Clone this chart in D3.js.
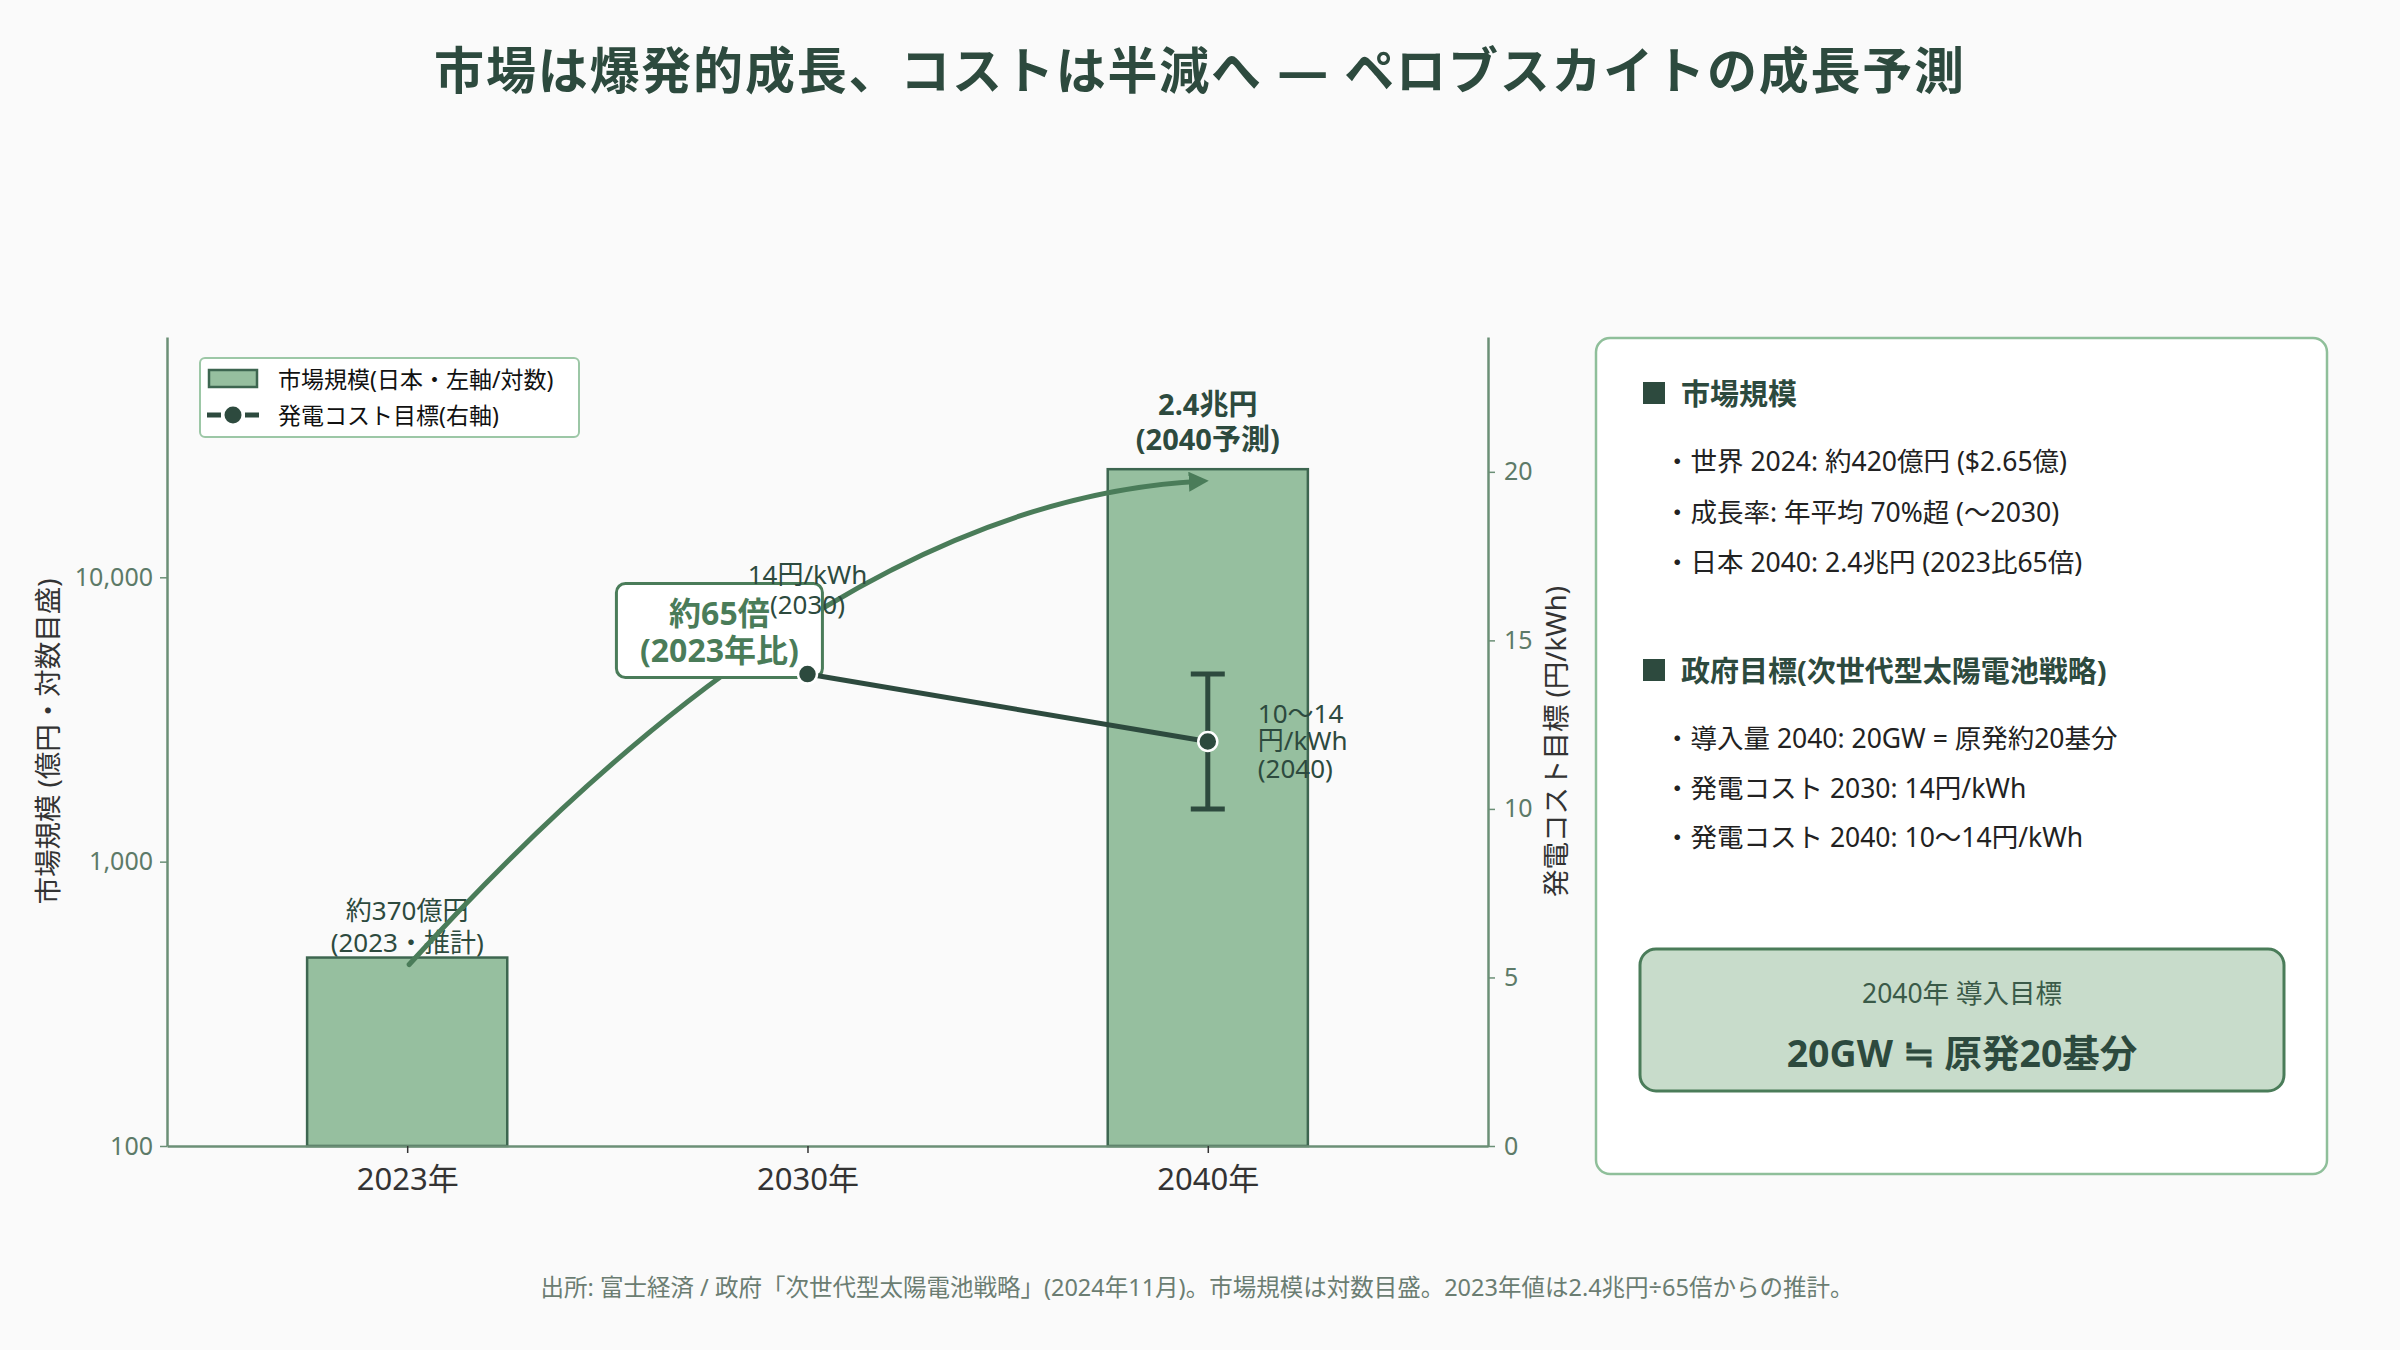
<!DOCTYPE html>
<html>
<head>
<meta charset="utf-8">
<script src="https://cdn.jsdelivr.net/npm/d3@7"></script>
<style>
  body { margin: 0; background: #fafafa; }
  svg { display: block; font-family: "Noto Sans", "Noto Sans CJK JP", sans-serif; }
</style>
</head>
<body>
<svg id="chart" width="2400" height="1350"></svg>
<script>
// categories and values
const years = ["2023年", "2030年", "2040年"]
const marketIdx = [0, 2]
const marketValues = [460, 24000]          // 億円 (log axis)
const costIdx = [1, 2]
const costValues = [14, 12]                // 円/kWh
const costLow = [null, 10]
const costHigh = [null, 14]
const leftTicks = [100, 1000, 10000]
const rightTicks = [0, 5, 10, 15, 20]
const panelMarket = ["・世界 2024: 約420億円 ($2.65億)", "・成長率: 年平均 70%超 (〜2030)", "・日本 2040: 2.4兆円 (2023比65倍)"]
const panelGov = ["・導入量 2040: 20GW = 原発約20基分", "・発電コスト 2030: 14円/kWh", "・発電コスト 2040: 10〜14円/kWh"]

const DARK = "#2d4a3e"
const MID = "#4a7c59"
const BAR = "#96bf9f"
const BAR_EDGE = "#3d6650"
const SPINE = "#6b8f76"
const TICK = "#5d7a68"

const svg = d3.select("#chart")
svg.append("rect").attr("width", 2400).attr("height", 1350).attr("fill", "#fafafa")

const L = 167, R = 1488, T = 337, B = 1146

const x = d3.scaleLinear().domain([-0.6, 2.7]).range([L, R])
const yL = d3.scaleLog().domain([100, 70000]).range([B, T])
const yR = d3.scaleLinear().domain([0, 24]).range([B, T])

// title
svg.append("text")
  .attr("x", 1200).attr("y", 70)
  .attr("text-anchor", "middle").attr("dominant-baseline", "central")
  .attr("font-size", 50).attr("font-weight", 700).attr("fill", DARK)
  .attr("letter-spacing", 1.8)
  .text("市場は爆発的成長、コストは半減へ — ペロブスカイトの成長予測")

// bars
const barW = x(0.25) - x(-0.25)
svg.selectAll(".bar")
  .data(marketIdx.map((d, i) => ({ i: d, v: marketValues[i] })))
  .enter().append("rect")
  .attr("x", d => x(d.i) - barW / 2)
  .attr("y", d => yL(d.v))
  .attr("width", barW)
  .attr("height", d => B - yL(d.v))
  .attr("fill", BAR).attr("stroke", BAR_EDGE).attr("stroke-width", 2.5)

// axes
const gx = svg.append("g").attr("transform", `translate(0,${B})`)
  .call(d3.axisBottom(x).tickValues([0, 1, 2]).tickFormat(i => years[i]).tickSize(7).tickSizeOuter(0))
gx.select(".domain").attr("stroke", SPINE).attr("stroke-width", 2.5)
gx.selectAll(".tick line").attr("stroke", "#333").attr("stroke-width", 1.5)
gx.selectAll(".tick text").attr("font-size", 31).attr("fill", "#333").attr("dy", "1.1em")
  .attr("font-family", "\"Noto Sans\", \"Noto Sans CJK JP\", sans-serif")

const gl = svg.append("g").attr("transform", `translate(${L},0)`)
  .call(d3.axisLeft(yL).tickValues(leftTicks).tickFormat(d3.format(",")).tickSize(7).tickSizeOuter(0))
gl.select(".domain").attr("stroke", SPINE).attr("stroke-width", 2.5)
gl.selectAll(".tick line").attr("stroke", SPINE).attr("stroke-width", 1.5)
gl.selectAll(".tick text").attr("font-size", 25).attr("fill", TICK).attr("x", -14)
  .attr("font-family", "\"Noto Sans\", sans-serif")

const gr = svg.append("g").attr("transform", `translate(${R},0)`)
  .call(d3.axisRight(yR).tickValues(rightTicks).tickSize(7).tickSizeOuter(0))
gr.select(".domain").attr("stroke", SPINE).attr("stroke-width", 2.5)
gr.selectAll(".tick line").attr("stroke", SPINE).attr("stroke-width", 1.5)
gr.selectAll(".tick text").attr("font-size", 25).attr("fill", TICK).attr("x", 16)
  .attr("font-family", "\"Noto Sans\", sans-serif")

// axis labels
svg.append("text")
  .attr("transform", `translate(47,${(T + B) / 2}) rotate(-90)`)
  .attr("text-anchor", "middle").attr("dominant-baseline", "central")
  .attr("font-size", 27.5).attr("fill", "#333")
  .text("市場規模 (億円・対数目盛)")
svg.append("text")
  .attr("transform", `translate(1555,${(T + B) / 2}) rotate(-90)`)
  .attr("text-anchor", "middle").attr("dominant-baseline", "central")
  .attr("font-size", 27.5).attr("fill", "#333")
  .text("発電コスト目標 (円/kWh)")

// bar labels
const lbl = (px, py, lines, size, weight, color, anchor, lh) => {
  const t = svg.append("text").attr("text-anchor", anchor || "middle")
    .attr("font-size", size).attr("font-weight", weight).attr("fill", color)
  lines.forEach((s, k) => t.append("tspan").attr("x", px).attr("y", py + k * lh)
    .attr("dominant-baseline", "central").text(s))
  return t
}
lbl(x(0), yL(marketValues[0]) - 48, ["約370億円", "(2023・推計)"], 26, 400, DARK, "middle", 32)
lbl(x(2), yL(marketValues[1]) - 66, ["2.4兆円", "(2040予測)"], 29, 700, DARK, "middle", 35)

// growth arrow
svg.append("defs").append("marker")
  .attr("id", "head").attr("viewBox", "0 0 10 10").attr("refX", 6).attr("refY", 5)
  .attr("markerWidth", 4).attr("markerHeight", 4).attr("orient", "auto")
  .append("path").attr("d", "M0,0 L10,5 L0,10 z").attr("fill", MID)
const p0 = [x(0) + 2, yL(marketValues[0]) + 7]
const p2 = [x(2) - 7, yL(marketValues[1]) + 12]
const ctrl = [830, 500]
svg.append("path")
  .attr("d", `M${p0[0]},${p0[1]} Q${ctrl[0]},${ctrl[1]} ${p2[0]},${p2[1]}`)
  .attr("fill", "none").attr("stroke", MID).attr("stroke-width", 5)
  .attr("stroke-linecap", "round").attr("marker-end", "url(#head)")

// annotation box
const ax = x(0.78), ay = yL(6500)
svg.append("rect").attr("x", ax - 103).attr("y", ay - 47).attr("width", 206).attr("height", 94)
  .attr("rx", 9).attr("fill", "#fff").attr("stroke", MID).attr("stroke-width", 3)
lbl(ax, ay - 18, ["約65倍", "(2023年比)"], 32, 700, MID, "middle", 37)

// cost line
const cost = costIdx.map((d, i) => ({ i: d, v: costValues[i], lo: costLow[i], hi: costHigh[i] }))
svg.append("path")
  .attr("d", d3.line().x(d => x(d.i)).y(d => yR(d.v))(cost))
  .attr("fill", "none").attr("stroke", DARK).attr("stroke-width", 5)
const eb = cost.filter(d => d.lo != null)
eb.forEach(d => {
  svg.append("line").attr("x1", x(d.i)).attr("x2", x(d.i)).attr("y1", yR(d.lo)).attr("y2", yR(d.hi))
    .attr("stroke", DARK).attr("stroke-width", 5)
  ;[d.lo, d.hi].forEach(v => svg.append("line")
    .attr("x1", x(d.i) - 17).attr("x2", x(d.i) + 17).attr("y1", yR(v)).attr("y2", yR(v))
    .attr("stroke", DARK).attr("stroke-width", 5))
})
svg.selectAll(".pt").data(cost).enter().append("circle")
  .attr("cx", d => x(d.i)).attr("cy", d => yR(d.v)).attr("r", 9.5)
  .attr("fill", DARK).attr("stroke", "#fff").attr("stroke-width", 2.5)

lbl(x(1), yR(costValues[0]) - 100, ["14円/kWh", "(2030)"], 26, 400, DARK, "middle", 30)
lbl(x(2) + 50, yR(costValues[1]) - 29, ["10〜14", "円/kWh", "(2040)"], 26, 400, DARK, "start", 27.5)

// legend
const lg = svg.append("g")
lg.append("rect").attr("x", 200).attr("y", 358).attr("width", 379).attr("height", 79).attr("rx", 5)
  .attr("fill", "#fff").attr("stroke", "#9cc7a6").attr("stroke-width", 2)
lg.append("rect").attr("x", 209).attr("y", 370).attr("width", 48).attr("height", 17)
  .attr("fill", BAR).attr("stroke", BAR_EDGE).attr("stroke-width", 2.5)
lg.append("line").attr("x1", 207).attr("x2", 259).attr("y1", 415).attr("y2", 415)
  .attr("stroke", DARK).attr("stroke-width", 5).attr("stroke-dasharray", "14,5")
lg.append("circle").attr("cx", 233).attr("cy", 415).attr("r", 8.5).attr("fill", DARK)
lbl(278, 379, ["市場規模(日本・左軸/対数)", "発電コスト目標(右軸)"], 23, 400, "#111", "start", 36)

// side panel
svg.append("rect").attr("x", 1596).attr("y", 338).attr("width", 731).attr("height", 836).attr("rx", 14)
  .attr("fill", "#fff").attr("stroke", "#8fbf9a").attr("stroke-width", 2.5)
const head = (py, s) => {
  svg.append("rect").attr("x", 1643).attr("y", py - 11).attr("width", 22).attr("height", 22).attr("fill", DARK)
  svg.append("text").attr("x", 1681).attr("y", py).attr("dominant-baseline", "central")
    .attr("font-size", 29).attr("font-weight", 700).attr("fill", DARK).text(s)
}
head(393, "市場規模")
lbl(1664, 461, panelMarket, 26.5, 400, "#222", "start", 50.5)
head(670, "政府目標(次世代型太陽電池戦略)")
lbl(1664, 738, panelGov, 26.5, 400, "#222", "start", 49.5)

svg.append("rect").attr("x", 1640).attr("y", 949).attr("width", 644).attr("height", 142).attr("rx", 16)
  .attr("fill", "#c8dccb").attr("stroke", MID).attr("stroke-width", 3)
lbl(1962, 993, ["2040年 導入目標"], 26.5, 400, "#3a5a48", "middle", 0)
lbl(1962, 1052, ["20GW ≒ 原発20基分"], 37.5, 700, DARK, "middle", 0)

// source
svg.append("text").attr("x", 1197).attr("y", 1287)
  .attr("text-anchor", "middle").attr("dominant-baseline", "central")
  .attr("font-size", 23.5).attr("fill", "#6b7d72")
  .text("出所: 富士経済 / 政府「次世代型太陽電池戦略」(2024年11月)。市場規模は対数目盛。2023年値は2.4兆円÷65倍からの推計。")
</script>
</body>
</html>
